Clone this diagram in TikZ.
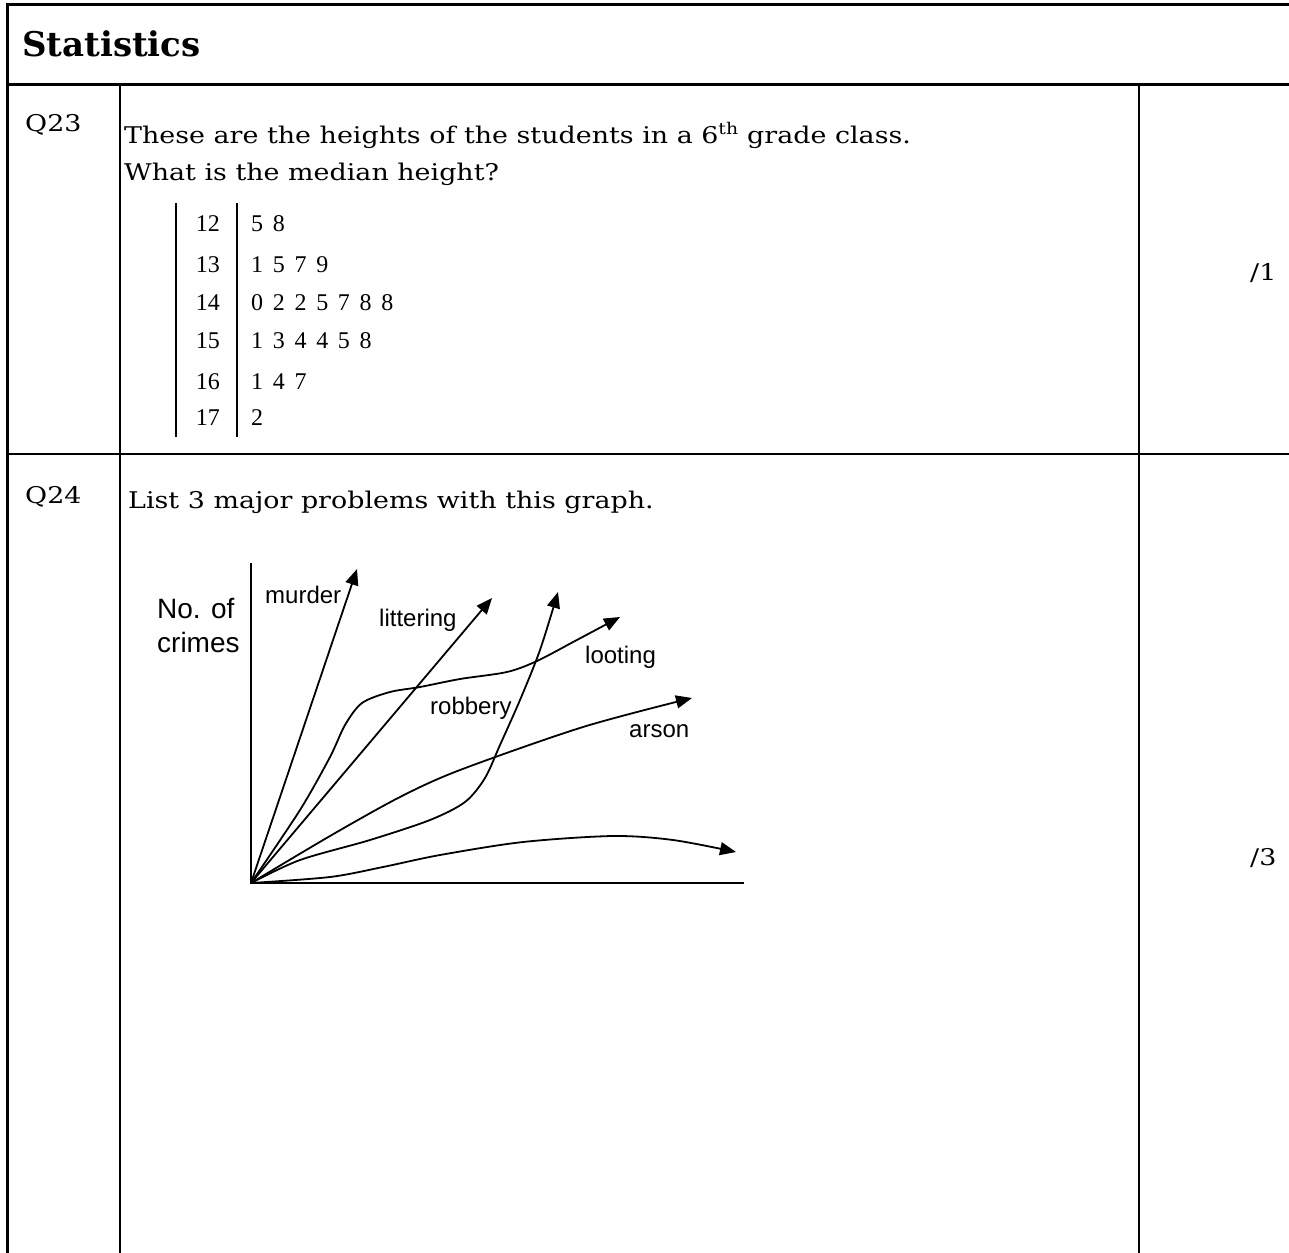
\documentclass[tikz,border=0pt]{standalone}
\usepackage{fontspec}
\setmainfont{DejaVu Serif}[FakeStretch=1.17]
\newfontfamily\headfont{DejaVu Serif}
\newfontfamily\timesfont{Liberation Serif}
\newfontfamily\arialfont{Liberation Sans}
\usetikzlibrary{arrows.meta}
\newcommand\leafd[1]{\makebox[21.7pt][l]{#1}}
\tikzset{
  border/.style={line width=3pt},
  rule/.style={line width=2.2pt},
  heading/.style={inner sep=0pt, anchor=base west, font=\headfont\bfseries\fontsize{34}{40}\selectfont},
  body/.style={inner sep=0pt, anchor=base west, font=\fontsize{23}{28}\selectfont},
  stemnum/.style={inner sep=0pt, anchor=base east, font=\timesfont\fontsize{24}{28}\selectfont},
  leafnum/.style={inner sep=0pt, anchor=base west, font=\timesfont\fontsize{24}{28}\selectfont},
  stemline/.style={line width=2.6pt},
  axis/.style={line width=1.8pt},
  curve/.style={line width=1.8pt, -{Triangle[length=16pt,width=13pt]}},
  glabel/.style={inner sep=0pt, anchor=base west, font=\arialfont\fontsize{24}{28}\selectfont},
  ylabel/.style={inner sep=0pt, anchor=base west, font=\arialfont\fontsize{28}{34}\selectfont}
}
\begin{document}
\begin{tikzpicture}[x=1pt,y=-1pt]
\useasboundingbox (0,0) rectangle (1289,1252);
\clip (0,0) rectangle (1289,1252);
% table frame
\draw[border] (7,1260) -- (7,5) -- (1300,5);
\draw[border] (7,85) -- (1300,85);
\draw[rule] (7,454) -- (1300,454);
\draw[rule] (120,85) -- (120,1260);
\draw[rule] (1139,85) -- (1139,1260);
% texts
\node[heading] (title) at (22,57) {Statistics};
\node[body] (q23) at (25,132) {Q23};
\node[body] (line1) at (124,144) {These are the heights of the students in a 6\textsuperscript{th} grade class.};
\node[body] (line2) at (124,181) {What is the median height?};
\node[body] (mark1) at (1250,280) {/1};
\node[body] (q24) at (25,503) {Q24};
\node[body] (line3) at (128,508) {List 3 major problems with this graph.};
\node[body] (mark3) at (1250,865) {/3};
% stem and leaf
\draw[stemline] (176,203) -- (176,437);
\draw[stemline] (237,203) -- (237,437);
\node[stemnum] (s12) at (220,231.5) {12};
\node[stemnum] (s13) at (220,272.5) {13};
\node[stemnum] (s14) at (220,310) {14};
\node[stemnum] (s15) at (220,348.5) {15};
\node[stemnum] (s16) at (220,389.5) {16};
\node[stemnum] (s17) at (220,425) {17};
\node[leafnum] (f12) at (251,231.5) {\leafd5\leafd8};
\node[leafnum] (f13) at (251,272.5) {\leafd1\leafd5\leafd7\leafd9};
\node[leafnum] (f14) at (251,310) {\leafd0\leafd2\leafd2\leafd5\leafd7\leafd8\leafd8};
\node[leafnum] (f15) at (251,348.5) {\leafd1\leafd3\leafd4\leafd4\leafd5\leafd8};
\node[leafnum] (f16) at (251,389.5) {\leafd1\leafd4\leafd7};
\node[leafnum] (f17) at (251,425) {\leafd2};
% graph
\coordinate (O) at (251,883);
\draw[axis] (251,563) -- (O) -- (744,883);
\draw[curve] (O) -- (357,569);
\draw[curve] (O) -- (492,598);
\draw[curve] plot[smooth, tension=0.5] coordinates {(251,883) (300,810) (330,757) (345,725) (362,703) (390,692) (420,687) (460,679) (507,672) (537,661) (575,641) (620,617)};
\draw[curve] plot[smooth, tension=0.5] coordinates {(251,883) (300,860) (370,840) (430,820) (465,802) (485,778) (500,745) (520,700) (540,650) (558,592)};
\draw[curve] plot[smooth, tension=0.5] coordinates {(251,883) (330,836) (400,797) (460,770) (583,727) (692,698)};
\draw[curve] plot[smooth, tension=0.5] coordinates {(251,883) (330,877) (383,867) (440,855) (523,842) (613,836) (673,840) (736,852)};
\node[ylabel] (yl1) at (157,618) {No. of};
\node[ylabel] (yl2) at (157,652) {crimes};
\node[glabel] (lm) at (265,603) {murder};
\node[glabel] (ll) at (379,626) {littering};
\node[glabel] (lr) at (430,714) {robbery};
\node[glabel] (lo) at (585,663) {looting};
\node[glabel] (la) at (629,737) {arson};
\end{tikzpicture}
\end{document}
